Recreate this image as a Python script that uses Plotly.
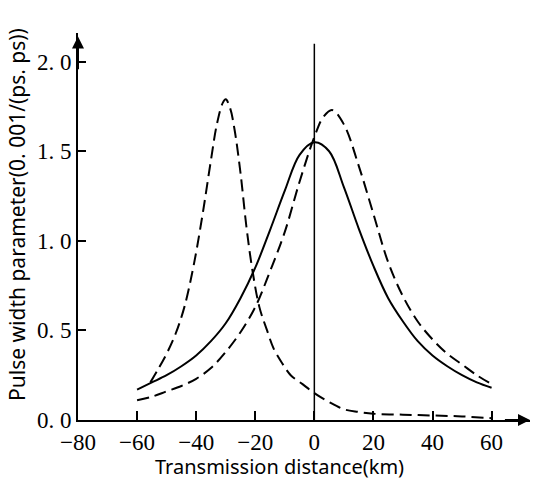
import plotly.graph_objects as go

# Solid curve
solid_x = [-60, -55, -50, -45, -40, -35, -30, -25, -20, -15, -10, -5, 0, 5, 10, 15, 20, 25, 30, 35, 40, 45, 50, 55, 60]
solid_y = [0.17, 0.21, 0.25, 0.30, 0.36, 0.44, 0.54, 0.68, 0.85, 1.06, 1.28, 1.48, 1.55, 1.50, 1.30, 1.07, 0.86, 0.68, 0.55, 0.44, 0.36, 0.30, 0.25, 0.21, 0.18]

# Dashed curve peaking right of zero
dash_r_x = [-60, -55, -50, -45, -40, -35, -30, -25, -20, -15, -10, -5, 0, 3, 6, 10, 15, 20, 25, 30, 35, 40, 45, 50, 55, 60]
dash_r_y = [0.11, 0.13, 0.16, 0.19, 0.23, 0.29, 0.38, 0.49, 0.63, 0.83, 1.05, 1.33, 1.58, 1.69, 1.73, 1.65, 1.42, 1.15, 0.88, 0.69, 0.55, 0.45, 0.37, 0.31, 0.25, 0.20]

# Dashed curve peaking near -30 km
dash_l_x = [-55.5, -53, -50, -47, -44, -41, -38, -35, -33, -31, -30, -28.5, -27, -25, -23, -21, -18.6, -16, -13.8, -11, -8, -4, 0, 5, 10, 15, 20, 30, 40, 50, 60]
dash_l_y = [0.21, 0.28, 0.37, 0.48, 0.63, 0.85, 1.13, 1.45, 1.65, 1.77, 1.79, 1.74, 1.62, 1.38, 1.08, 0.84, 0.63, 0.50, 0.40, 0.32, 0.25, 0.20, 0.15, 0.10, 0.06, 0.045, 0.035, 0.03, 0.025, 0.02, 0.01]

x_ticks = [-80, -60, -40, -20, 0, 20, 40, 60]
x_ticktext = ["−80", "−60", "−40", "−20", "0", "20", "40", "60"]
y_ticks = [0.0, 0.5, 1.0, 1.5, 2.0]
y_ticktext = ["0. 0", "0. 5", "1. 0", "1. 5", "2. 0"]

SERIF = "Liberation Serif"
SANS = "Noto Sans"

fig = go.Figure()
line_style = dict(color="black", width=2, shape="spline", smoothing=1)
fig.add_trace(go.Scatter(x=solid_x, y=solid_y, mode="lines", line=line_style))
fig.add_trace(go.Scatter(x=dash_r_x, y=dash_r_y, mode="lines", line=dict(line_style, dash="12px,6px")))
fig.add_trace(go.Scatter(x=dash_l_x, y=dash_l_y, mode="lines", line=dict(line_style, dash="12px,6px")))

# vertical reference line at 0
fig.add_shape(type="line", x0=0, x1=0, y0=0, y1=2.1, xref="x", yref="y",
              line=dict(color="black", width=1.5))

fig.update_layout(
    width=541, height=479,
    margin=dict(l=78, r=11, t=33, b=59),
    plot_bgcolor="white", paper_bgcolor="white",
    showlegend=False,
    font=dict(family=SERIF, color="black", size=17),
    xaxis=dict(range=[-80, 73], tickvals=x_ticks, ticktext=x_ticktext,
               showgrid=False, zeroline=False, showline=True, linecolor="black", linewidth=2,
               ticks="inside", ticklen=9, tickwidth=1.5, tickcolor="black",
               tickfont=dict(family=SERIF, size=23)),
    yaxis=dict(range=[0, 2.16], tickvals=y_ticks, ticktext=y_ticktext,
               showgrid=False, zeroline=False, showline=True, linecolor="black", linewidth=2,
               ticks="inside", ticklen=8, tickwidth=1.5, tickcolor="black",
               tickfont=dict(family=SERIF, size=23)),
    annotations=[
        dict(x=73, y=0, ax=64, ay=0, xref="x", yref="y", axref="x", ayref="y",
             showarrow=True, arrowhead=2, arrowsize=1.2, arrowwidth=2, arrowcolor="black", text=""),
        dict(x=-80, y=2.14, ax=-80, ay=1.95, xref="x", yref="y", axref="x", ayref="y",
             showarrow=True, arrowhead=2, arrowsize=1.2, arrowwidth=2, arrowcolor="black", text=""),
        dict(text="Transmission distance(km)", xref="paper", yref="paper", x=0.445, y=0,
             xanchor="center", yanchor="middle",
             yshift=-46, showarrow=False, font=dict(family=SANS, size=20)),
        dict(text="Pulse width parameter(0. 001/(ps. ps))", xref="paper", yref="paper", x=0, y=0.53,
             xanchor="center", yanchor="middle", borderpad=0,
             xshift=-61, textangle=-90, showarrow=False, font=dict(family=SANS, size=21)),
    ],
)

fig.write_html("out.html", config={"displayModeBar": False},
               post_script="document.body.style.margin='0';document.body.style.overflow='hidden';")
